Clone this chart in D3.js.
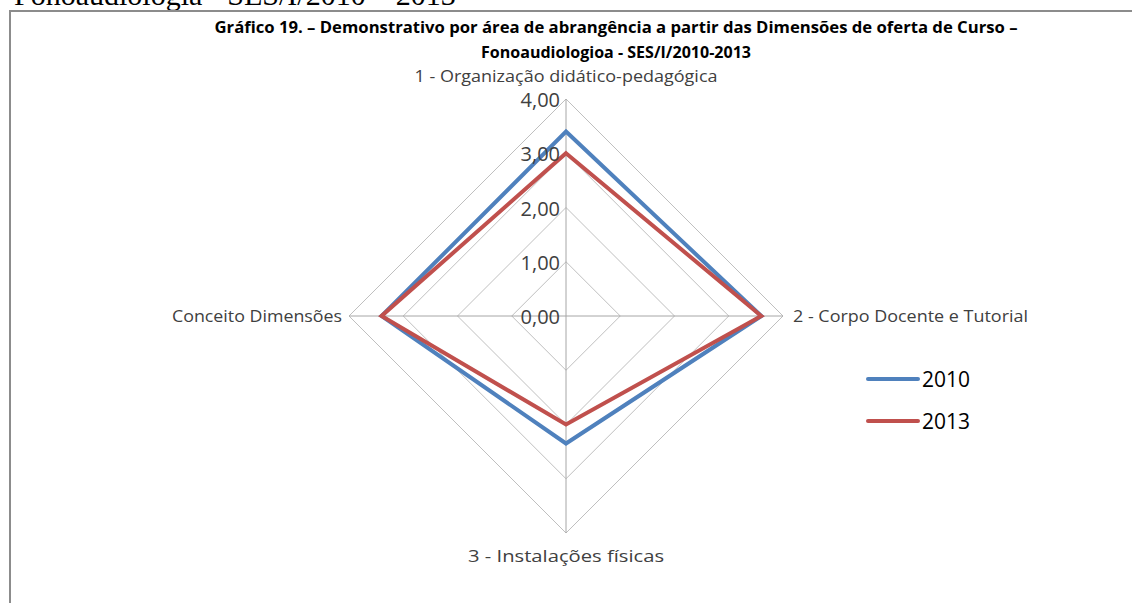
<!DOCTYPE html>
<html>
<head>
<meta charset="utf-8">
<script src="https://cdn.jsdelivr.net/npm/d3@7"></script>
<style>
  body { margin: 0; background: #fff; }
  text { font-family: "Open Sans", "Noto Sans", sans-serif; }
</style>
</head>
<body>
<svg id="chart" width="1132" height="603"></svg>
<script>
// chart data
const axes = ['1 - Organização didático-pedagógica', '2 - Corpo Docente e Tutorial', '3 - Instalações físicas', 'Conceito Dimensões'];
const years = ['2010', '2013'];
const values2010 = [3.4, 3.6, 2.35, 3.4];
const values2013 = [3.0, 3.6, 2.0, 3.4];
const ticks = [0, 1, 2, 3, 4];
const tickLabels = ['0,00', '1,00', '2,00', '3,00', '4,00'];

const colors = ['#4f81bd', '#c0504d'];
const cx = 566, cy = 316, R = 217;

const svg = d3.select('#chart');

// page text above the chart, cut off by the top edge
svg.append('text')
  .attr('x', 14).attr('y', 5)
  .style('font-family', '"Liberation Serif", "Times New Roman", serif')
  .style('font-size', '30px')
  .attr('fill', '#000')
  .text('Fonoaudiologia - SES/I/2010 – 2013');

// chart frame
svg.append('rect')
  .attr('x', 10).attr('y', 11)
  .attr('width', 1140).attr('height', 610)
  .attr('fill', 'none')
  .attr('stroke', '#8c8c8c')
  .attr('stroke-width', 2);

// title
const title = svg.append('text')
  .attr('text-anchor', 'middle')
  .style('font-weight', 'bold')
  .style('font-size', '16px')
  .attr('fill', '#000');
title.append('tspan').attr('x', 616).attr('y', 33)
  .attr('textLength', 803).attr('lengthAdjust', 'spacingAndGlyphs')
  .text('Gráfico 19. – Demonstrativo por área de abrangência a partir das Dimensões de oferta de Curso –');
title.append('tspan').attr('x', 616).attr('y', 58)
  .attr('textLength', 270).attr('lengthAdjust', 'spacingAndGlyphs')
  .text('Fonoaudiologioa -  SES/I/2010-2013');

const r = d3.scaleLinear().domain([0, 4]).range([0, R]);
const angle = d3.scaleLinear().domain([0, axes.length]).range([0, 2 * Math.PI]);

function pt(i, v) {
  const a = angle(i);
  return [cx + r(v) * Math.sin(a), cy - r(v) * Math.cos(a)];
}

// grid rings
const g = svg.append('g');
g.selectAll('path.ring')
  .data(ticks.filter(t => t > 0))
  .enter().append('path')
  .attr('class', 'ring')
  .attr('d', t => d3.line()(axes.map((a, i) => pt(i, t))) + 'Z')
  .attr('fill', 'none')
  .attr('stroke', '#bfbfbf')
  .attr('stroke-width', 1);

// spokes
g.selectAll('line.spoke')
  .data(axes)
  .enter().append('line')
  .attr('class', 'spoke')
  .attr('x1', cx).attr('y1', cy)
  .attr('x2', (d, i) => pt(i, 4)[0])
  .attr('y2', (d, i) => pt(i, 4)[1])
  .attr('stroke', '#a6a6a6')
  .attr('stroke-width', 1);

// series
const series = [values2010, values2013];
svg.append('g').selectAll('path')
  .data(series)
  .enter().append('path')
  .attr('d', vals => d3.line()(vals.map((v, i) => pt(i, v))) + 'Z')
  .attr('fill', 'none')
  .attr('stroke', (d, i) => colors[i])
  .attr('stroke-width', 4)
  .attr('stroke-linejoin', 'miter');

// tick labels
svg.append('g').selectAll('text')
  .data(ticks)
  .enter().append('text')
  .attr('x', 560)
  .attr('y', t => cy - r(t) + 8)
  .attr('text-anchor', 'end')
  .style('font-size', '20px')
  .attr('fill', '#404040')
  .text((t, i) => tickLabels[i]);

// axis labels
const labelPos = [
  { x: cx, y: 82, anchor: 'middle', w: 303 },
  { x: 793, y: 322, anchor: 'start', w: 235 },
  { x: cx, y: 562, anchor: 'middle', w: 196 },
  { x: 342, y: 322, anchor: 'end', w: 170 }
];
svg.append('g').selectAll('text')
  .data(axes)
  .enter().append('text')
  .attr('x', (d, i) => labelPos[i].x)
  .attr('y', (d, i) => labelPos[i].y)
  .attr('text-anchor', (d, i) => labelPos[i].anchor)
  .attr('textLength', (d, i) => labelPos[i].w)
  .attr('lengthAdjust', 'spacingAndGlyphs')
  .style('font-size', '16.5px')
  .attr('fill', '#404040')
  .text(d => d);

// legend
const legend = svg.append('g').selectAll('g')
  .data(years)
  .enter().append('g')
  .attr('transform', (d, i) => `translate(868,${379 + i * 42})`);
legend.append('line')
  .attr('x1', 0).attr('x2', 50)
  .attr('stroke', (d, i) => colors[i])
  .attr('stroke-width', 4)
  .attr('stroke-linecap', 'round');
legend.append('text')
  .attr('x', 54).attr('y', 8)
  .style('font-size', '21px')
  .attr('fill', '#000')
  .text(d => d);
</script>
</body>
</html>
